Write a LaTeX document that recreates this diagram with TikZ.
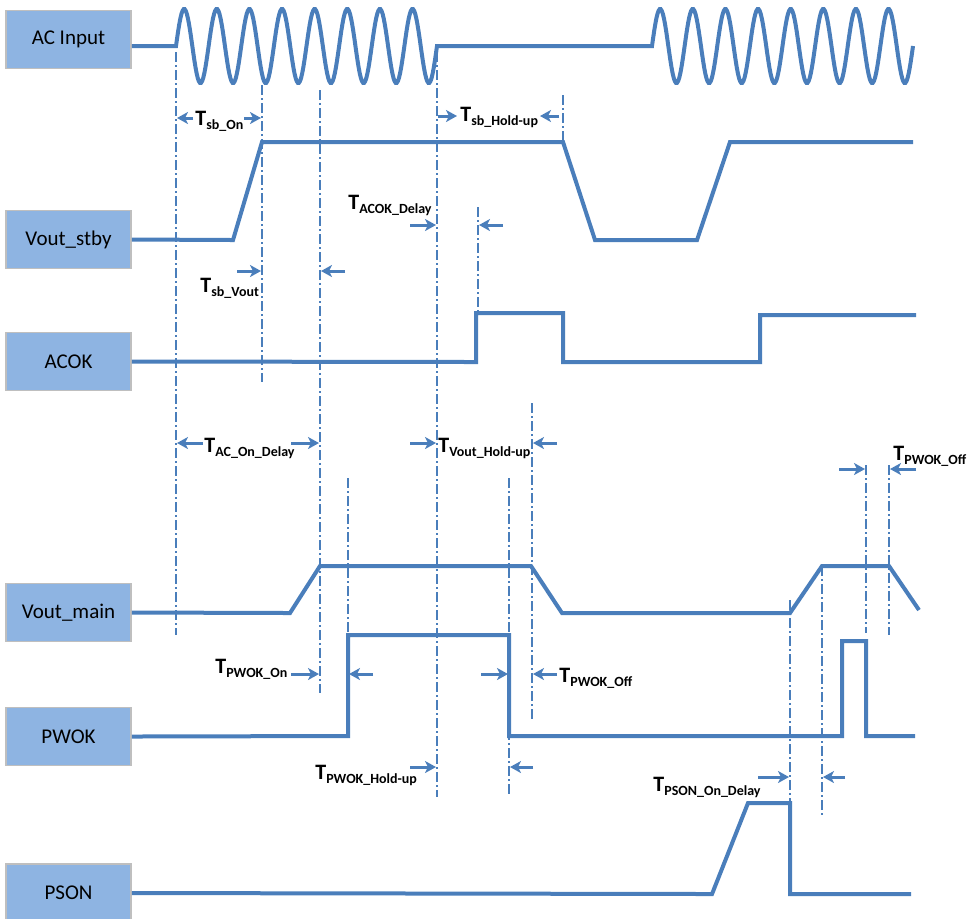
\documentclass[tikz,border=0pt]{standalone}
\usepackage{fontspec}
\setmainfont{Carlito}
\usetikzlibrary{arrows.meta}

\definecolor{wave}{RGB}{74,126,187}
\definecolor{boxfill}{RGB}{142,180,226}
\definecolor{boxline}{RGB}{191,191,191}

\newcommand{\tlab}[1]{\bfseries\fontsize{11}{12}\selectfont T\raisebox{-2pt}{\fontsize{7}{8}\selectfont #1}}

\begin{document}
\begin{tikzpicture}[x=0.5pt, y=-0.5pt,
    sig/.style={wave, line width=2pt},
    guide/.style={wave, line width=0.75pt, dash pattern=on 5pt off 1.6pt on 0.8pt off 1.6pt},
    dim/.style={wave, line width=1.5pt, -{Stealth[length=5.5pt, width=6pt, inset=1.5pt]}},
    sigbox/.style={draw=boxline, line width=0.8pt, fill=boxfill, minimum width=62.5pt,
      minimum height=29pt, inner sep=0pt, font=\fontsize{10.5}{12}\selectfont},
    tl/.style={anchor=base west, inner sep=0pt}]
    \useasboundingbox (0,0) rectangle (967,918);
    \clip (0,0) rectangle (967,918);
    % Signal names
    \node[sigbox] (ac) at (68.5,39.5) {AC Input};
    \node[sigbox] (stby) at (68.5,239.5) {Vout\_stby};
    \node[sigbox] (acok) at (68.5,361.5) {ACOK};
    \node[sigbox] (vmain) at (68.5,612.5) {Vout\_main};
    \node[sigbox] (pwok) at (68.5,736.5) {PWOK};
    \node[sigbox] (pson) at (68.5,893) {PSON};
    % Guide lines
    \draw[guide] (176,52) -- (176,635);
    \draw[guide] (262,85) -- (262,382);
    \draw[guide] (320,90) -- (320,693);
    \draw[guide] (348,478) -- (348,636);
    \draw[guide] (437,52) -- (437,797);
    \draw[guide] (478,207) -- (478,313);
    \draw[guide] (509,478) -- (509,795);
    \draw[guide] (532,403) -- (532,722);
    \draw[guide] (563,95) -- (563,142);
    \draw[guide] (790,600) -- (790,810);
    \draw[guide] (822,566) -- (822,817);
    \draw[guide] (866,465) -- (866,633);
    \draw[guide] (889,465) -- (889,635);
    % AC input
    \draw[sig] (ac.east |- 0,46)
      -- plot[domain=176:437, samples=241] (\x,{46-37*sin(11.0345*(\x-176))})
      -- plot[domain=652:913, samples=241] (\x,{46-37*sin(11.0345*(\x-652))});
    % Standby output
    \draw[sig] (stby.east) -- (233,240) -- (262,142) -- (563,142) -- (595,240)
      -- (697,240) -- (730,142) -- (913,142);
    % ACOK
    \draw[sig] (acok.east) -- (476,362) -- (476,313) -- (563,313) -- (563,362)
      -- (760,362) -- (760,315) -- (916,315);
    % Main output
    \draw[sig] (vmain.east) -- (290,613) -- (320,566) -- (531,566) -- (562,613)
      -- (790,613) -- (822,566) -- (889,566) -- (919,610);
    % PWOK
    \draw[sig] (pwok.east) -- (348,736) -- (348,635) -- (509,635) -- (509,736)
      -- (842,736) -- (842,641) -- (866,641) -- (866,736) -- (915,736);
    % PSON
    \draw[sig] (pson.east) -- (712,894) -- (748,803) -- (790,803) -- (790,894) -- (911,894);
    % Timing labels
    \node[tl] (tsbon) at (195,125) {\tlab{sb\_On}};
    \draw[dim] (193,118) -- (177,118);
    \draw[dim] (244,118) -- (261,118);
    \node[tl] (tsbhold) at (460,121) {\tlab{sb\_Hold-up}};
    \draw[dim] (438,116) -- (457,116);
    \draw[dim] (559,116) -- (540,116);
    \node[tl] (tsbvout) at (200,292) {\tlab{sb\_Vout}};
    \draw[dim] (237,271) -- (261,271);
    \draw[dim] (345,271) -- (321,271);
    \node[tl] (tacok) at (348,209) {\tlab{ACOK\_Delay}};
    \draw[dim] (410,225) -- (436,225);
    \draw[dim] (503,225) -- (479,225);
    \node[tl] (tacon) at (204,452) {\tlab{AC\_On\_Delay}};
    \draw[dim] (203,443) -- (177,443);
    \draw[dim] (291,443) -- (319,443);
    \node[tl] (tvhold) at (438,452) {\tlab{Vout\_Hold-up}};
    \draw[dim] (410,443) -- (436,443);
    \draw[dim] (557,443) -- (533,443);
    \node[tl] (tpwoff) at (893,460) {\tlab{PWOK\_Off}};
    \draw[dim] (839,469) -- (865,469);
    \draw[dim] (916,469) -- (890,469);
    \node[tl] (tpwon) at (215,673) {\tlab{PWOK\_On}};
    \draw[dim] (291,674) -- (319,674);
    \draw[dim] (373,674) -- (349,674);
    \node[tl] (tpwoffb) at (559,682) {\tlab{PWOK\_Off}};
    \draw[dim] (481,674) -- (508,674);
    \draw[dim] (557,674) -- (533,674);
    \node[tl] (tpwhold) at (315,779) {\tlab{PWOK\_Hold-up}};
    \draw[dim] (410,767) -- (436,767);
    \draw[dim] (533,767) -- (510,767);
    \node[tl] (tpson) at (653,791) {\tlab{PSON\_On\_Delay}};
    \draw[dim] (758,777) -- (789,777);
    \draw[dim] (845,777) -- (823,777);
  \end{tikzpicture}
\end{document}
